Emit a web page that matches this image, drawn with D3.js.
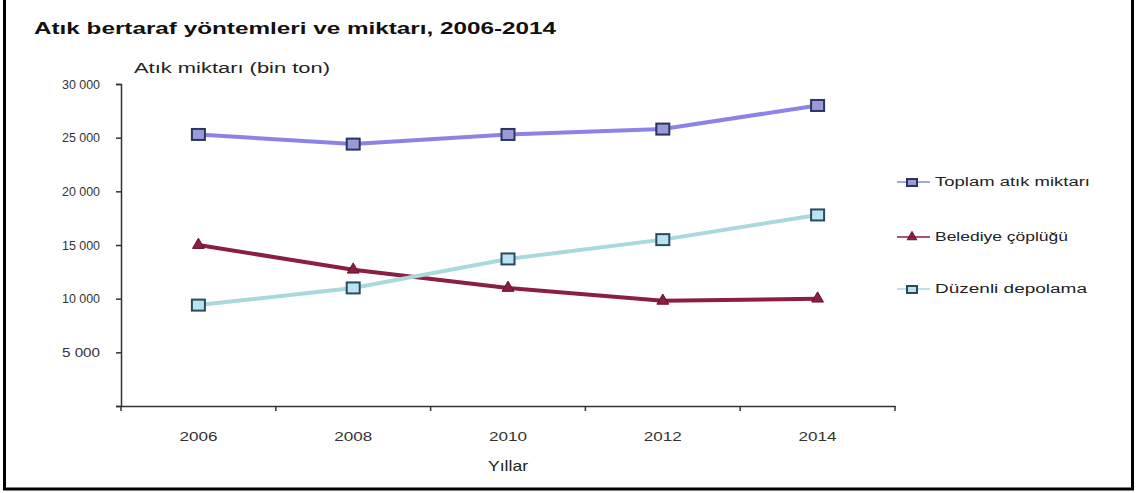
<!DOCTYPE html>
<html><head><meta charset="utf-8">
<script src="https://cdn.jsdelivr.net/npm/d3@7"></script>
<style>body{margin:0;background:#fff}svg{display:block}text{font-family:"Liberation Sans",Arial,sans-serif}</style>
</head><body>
<svg id="c" width="1139" height="493"></svg>
<script>
const years = ["2006","2008","2010","2012","2014"];
const yTicks = [0,5000,10000,15000,20000,25000,30000];
const toplam = [25300,24400,25300,25800,28000];
const belediye = [15000,12700,11000,9800,10000];
const duzenli = [9400,11000,13700,15500,17800];
const seriesNames = ["Toplam atık miktarı","Belediye çöplüğü","Düzenli depolama"];

const svg = d3.select("#c");
svg.append("rect").attr("x",4.5).attr("y",-5).attr("width",1128).attr("height",494)
  .attr("fill","none").attr("stroke","#000").attr("stroke-width",3);

svg.append("text").attr("x",34).attr("y",34).attr("font-size",17).attr("font-weight","bold")
  .attr("fill","#111").attr("textLength",522).attr("lengthAdjust","spacingAndGlyphs")
  .text("Atık bertaraf yöntemleri ve miktarı, 2006-2014");

const x = d3.scaleBand().domain(years).range([121,895]);
const y = d3.scaleLinear().domain([0,30000]).range([406,84]);

const fmt = d => d===0 ? "" : d3.format(",")(d).replace(",", " ");
const ya = svg.append("g").attr("transform","translate(121,0)")
  .call(d3.axisLeft(y).tickValues(yTicks).tickSize(5).tickFormat(fmt));
ya.select(".domain").attr("stroke","#333").attr("stroke-width",1.5);
ya.selectAll(".tick line").attr("stroke","#333").attr("stroke-width",1.5);
ya.selectAll("text").attr("font-size",13).attr("fill","#333").attr("x",-21)
  .attr("textLength",38).attr("lengthAdjust","spacingAndGlyphs");

const xa = svg.append("g").attr("transform","translate(0,406)")
  .call(d3.axisBottom(x).tickSize(0).tickFormat(d=>d));
xa.select(".domain").attr("stroke","#333").attr("stroke-width",1.5);
xa.selectAll("text").attr("font-size",13.5).attr("fill","#333").attr("dy",0).attr("y",35)
  .attr("textLength",38).attr("lengthAdjust","spacingAndGlyphs");
const bounds = years.map(d=>x(d)).concat([x.range()[1]]);
svg.append("g").selectAll("line").data(bounds).join("line")
  .attr("x1",d=>d).attr("x2",d=>d).attr("y1",406).attr("y2",411)
  .attr("stroke","#333").attr("stroke-width",1.5);

svg.append("text").attr("x",134).attr("y",73).attr("font-size",14).attr("fill","#222")
  .attr("textLength",196).attr("lengthAdjust","spacingAndGlyphs").text("Atık miktarı (bin ton)");
svg.append("text").attr("x",x("2010")+x.bandwidth()/2).attr("y",471).attr("text-anchor","middle")
  .attr("font-size",15).attr("fill","#222").attr("textLength",40).attr("lengthAdjust","spacingAndGlyphs").text("Yıllar");

const cx = d => x(d)+x.bandwidth()/2;
const series = [
  {name:seriesNames[0], vals:toplam, line:"#8d82e6", fill:"#9a9ad8", stroke:"#2a3560", shape:"sq", w:155},
  {name:seriesNames[1], vals:belediye, line:"#8a1e43", fill:"#8a1e43", stroke:"#6a0f2e", shape:"tri", w:133},
  {name:seriesNames[2], vals:duzenli, line:"#a9d9dc", fill:"#b9e3f2", stroke:"#2b4a5e", shape:"sq", w:152}
];
const line = d3.line().x((d,i)=>cx(years[i])).y(d=>y(d));
function marker(g, s, px, py){
  if(s.shape==="sq"){
    g.append("rect").attr("x",px-6.5).attr("y",py-5.5).attr("width",13).attr("height",11)
      .attr("fill",s.fill).attr("stroke",s.stroke).attr("stroke-width",2);
  } else {
    g.append("path").attr("d",d3.symbol(d3.symbolTriangle,60)()).attr("transform",`translate(${px},${py})`)
      .attr("fill",s.fill).attr("stroke",s.stroke).attr("stroke-width",1);
  }
}
series.forEach(s=>{
  svg.append("path").datum(s.vals).attr("d",line).attr("fill","none")
    .attr("stroke",s.line).attr("stroke-width",4);
  const g = svg.append("g");
  s.vals.forEach((v,i)=>marker(g,s,cx(years[i]),y(v)));
});

const legY = [182,237,289];
series.forEach((s,i)=>{
  const g = svg.append("g");
  g.append("line").attr("x1",897).attr("x2",930).attr("y1",legY[i]).attr("y2",legY[i])
    .attr("stroke",s.line).attr("stroke-width",1.5);
  if(s.shape==="sq"){
    g.append("rect").attr("x",907).attr("y",legY[i]-3).attr("width",10).attr("height",7)
      .attr("fill",s.fill).attr("stroke",s.stroke).attr("stroke-width",2);
  } else {
    g.append("path").attr("d",d3.symbol(d3.symbolTriangle,40)()).attr("transform",`translate(912,${legY[i]})`)
      .attr("fill",s.fill).attr("stroke",s.stroke);
  }
  g.append("text").attr("x",935).attr("y",legY[i]+4).attr("font-size",12).attr("fill","#222")
    .attr("textLength",s.w).attr("lengthAdjust","spacingAndGlyphs").text(s.name);
});
</script>
</body></html>
